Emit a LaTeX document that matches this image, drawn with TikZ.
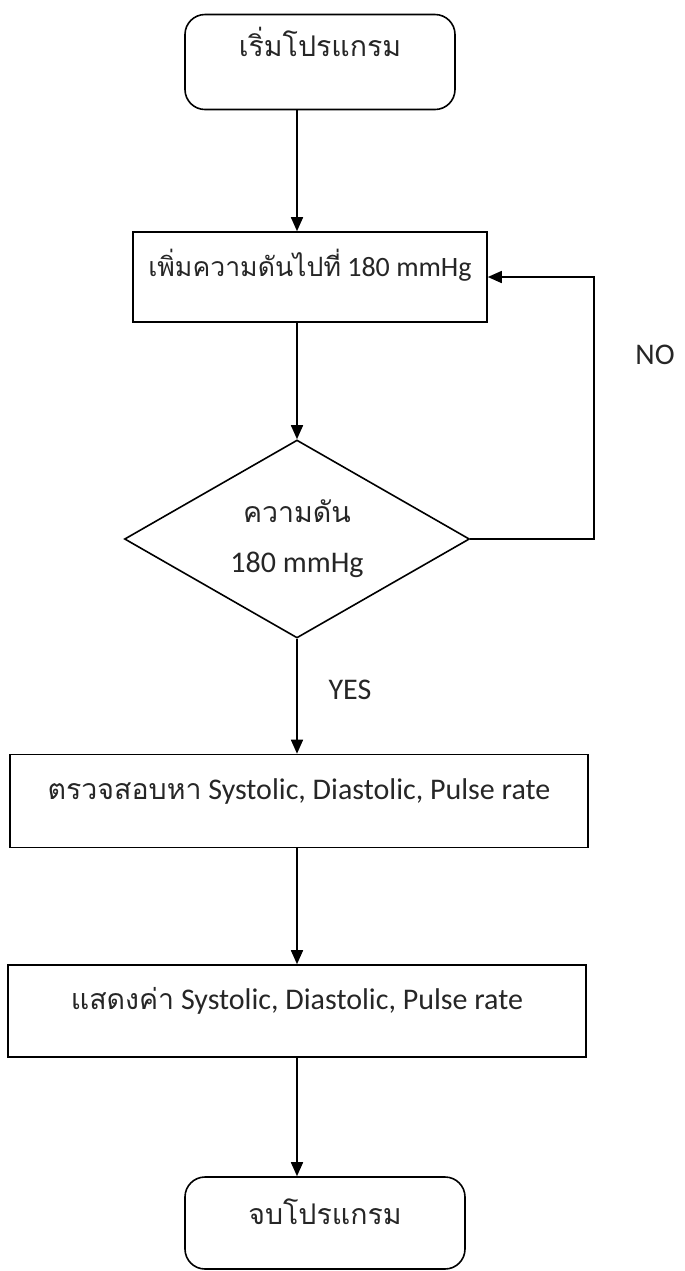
\documentclass[tikz,border=0pt]{standalone}
\usepackage{fontspec}
\setmainfont{Carlito}
\newfontfamily\thaifont[Script=Thai,Scale=0.95]{Loma}
\usetikzlibrary{arrows.meta,shapes.geometric,calc}

\begin{document}
\begin{tikzpicture}[x=0.5pt, y=-0.5pt,
  every node/.style={font=\fontsize{15}{18}\selectfont, text=black!85},
  procbox/.style={draw, line width=0.8pt, rectangle, inner sep=0pt,
                  text height=10pt, text depth=9pt},
  termbox/.style={procbox, rounded corners=10pt},
  decision/.style={draw, line width=0.8pt, diamond, inner sep=-8pt,
                   minimum width=172.5pt, minimum height=99pt, align=center},
  arr/.style={-{Triangle[length=7pt,width=6pt]}, line width=0.8pt}]

\useasboundingbox (0,0) rectangle (685,1271);

\node[termbox, minimum width=135pt, minimum height=47.5pt, text depth=16pt] (start) at (320,62) {\thaifont เริ่มโปรแกรม};
\node[procbox, minimum width=177pt, minimum height=45pt, text depth=11pt,
      font=\fontsize{14}{17}\selectfont] (raise) at (310,277) {{\thaifont เพิ่มความดันไปที่} 180 mmHg};
\node[decision] (check) at (297,539) {{\thaifont ความดัน}\\[7pt] 180 mmHg};
\node[procbox, minimum width=289pt, minimum height=46.5pt, text depth=12pt] (measure) at (299,801) {{\thaifont ตรวจสอบหา} Systolic, Diastolic, Pulse rate};
\node[procbox, minimum width=289pt, minimum height=46pt, text depth=12pt] (show) at (297,1011) {{\thaifont แสดงค่า} Systolic, Diastolic, Pulse rate};
\node[termbox, minimum width=140pt, minimum height=46pt, text depth=9pt] (stop) at (325,1223) {\thaifont จบโปรแกรม};

\node (no) at (655,355) {NO};
\node (yes) at (350,690) {YES};

% main flow
\draw[arr] (start.south -| check.north) -- (raise.north -| check.north);
\draw[arr] (raise.south -| check.north) -- (check.north);
\draw[arr] (check.south) -- (measure.north -| check.south);
\draw[arr] (measure.south -| check.south) -- (show.north -| check.south);
\draw[arr] (show.south -| check.south) -- (stop.north -| check.south);

% loop back
\draw[arr] (check.east) -| ($(raise.east)+(53pt,0)$) -- (raise.east);

\end{tikzpicture}
\end{document}
